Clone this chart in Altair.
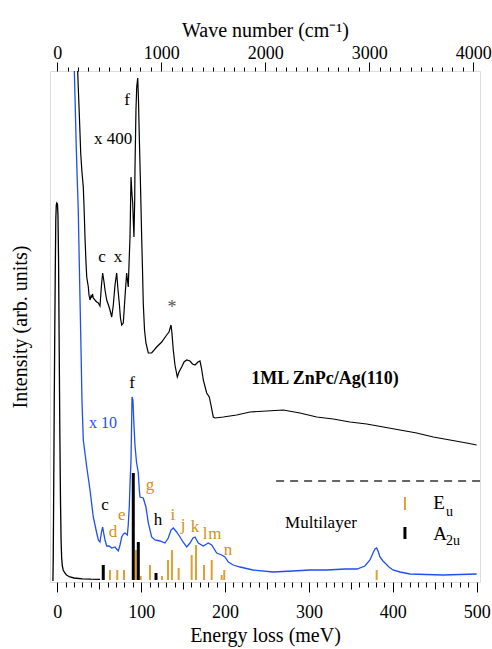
import altair as alt
import pandas as pd

# ---------------- data (energy loss in meV, intensity in arb. units) ----------------
elastic_e = [-5.2, -4.8, -4.2, -3.6, -3.0, -2.4, -1.8, -1.2, -0.6, 0.2, 0.8, 1.5, 2.2, 3.0,
             3.8, 4.5, 5.2, 6.0, 7, 9, 11, 15, 20, 30, 40, 51]
elastic_i = [1, 27, 102, 182, 252, 312, 362, 377, 379, 378, 367, 322, 242, 152,
             82, 42, 24, 16, 12, 9, 7, 5, 4, 3.2, 2.8, 2.6]

multi_e = [20.3, 21.5, 22.7, 23.8, 25.0, 25.9, 27.1, 28.3, 29.4, 31.0, 35.1, 39.0, 42.9, 47.0,
           48.9, 50.9, 52.7, 54.1, 55.7, 56.9, 58.9, 61.6, 64.9, 68.8, 72.7, 74.8, 76.8, 78.9,
           80.7, 83.5, 84.6, 85.8, 86.9, 87.9, 88.5, 89.1, 90.2, 91.4, 92.6, 94.4, 96.6, 97.8,
           98.6, 102.5, 105.7, 108.5, 112.5, 116.5, 122.4, 128.4, 132.3, 135.6, 138.3, 142.3,
           146.3, 149.9, 154.3, 158.2, 161.8, 164.2, 168.1, 174.1, 180.0, 184.1, 190.0, 196.0,
           199.9, 203.9, 209.8, 217.8, 233.3, 257.2, 281.0, 301.3, 321.5, 343.0, 357.3, 366.8,
           372.8, 376.4, 378.8, 380.8, 382.9, 384.7, 388.3, 390.7, 395.5, 400.2, 408.6, 420.5,
           459.8, 480.1, 500.0]
multi_i = [511, 472, 432, 402, 372, 332, 282, 232, 182, 142, 115, 92, 65, 49,
           42, 40, 50, 55, 47, 42, 36, 36, 34, 35, 31, 37, 45, 48,
           49, 47, 57, 75, 102, 122, 152, 185, 182, 157, 137, 120, 109, 92,
           85, 84, 75, 59, 45, 42, 41, 39, 44, 52, 54, 50,
           45, 40, 35, 39, 44, 45, 39, 36, 39, 37, 29, 27,
           25, 20, 17, 15, 12, 10, 11, 12, 12, 13, 13, 16,
           22, 29, 33, 34, 30, 25, 21, 19, 15, 12, 10, 8,
           7, 7.5, 8]

mono_e = [24.3, 25.0, 26.5, 27.9, 29.4, 31.0, 32.1, 33.0, 34.2, 35.1, 37.0, 37.8, 39.0, 40.2,
          41.0, 42.0, 42.9, 44.9, 47.0, 48.9, 50.9, 52.7, 54.1, 55.7, 56.9, 58.9, 61.0, 62.8,
          64.9, 66.8, 68.8, 70.8, 72.4, 73.9, 75.3, 76.8, 78.7, 80.7, 82.7, 84.6, 85.7, 86.7,
          87.9, 89.1, 89.9, 90.8, 91.4, 92.3, 92.6, 93.8, 94.7, 95.9, 96.8, 97.8, 99.2, 100.6,
          101.6, 102.5, 104.0, 105.7, 108.5, 112.5, 118.5, 124.5, 130.4, 133.2, 135.6, 136.7,
          138.3, 140.3, 143.1, 145.1, 148.3, 151.1, 154.3, 158.2, 161.2, 164.2, 167.7, 170.1,
          171.9, 174.1, 178.1, 181.2, 183.2, 186.0, 188.0, 197.9, 213.9, 229.7, 249.6, 269.4,
          289.3, 309.3, 329.0, 349.0, 368.9, 388.7, 408.6, 428.5, 448.3, 468.2, 488.1, 500.0]
mono_i = [511, 495, 462, 429, 410, 395, 370, 345, 320, 305, 295, 287, 282, 286,
          285, 288, 284, 282, 280, 279, 276, 297, 309, 300, 292, 282, 277, 272,
          265, 277, 297, 309, 292, 279, 264, 257, 259, 285, 309, 295, 322, 345,
          405, 387, 379, 357, 345, 382, 412, 472, 495, 504, 482, 445, 397, 345,
          312, 279, 252, 239, 229, 229, 235, 240, 247, 250, 257, 249,
          232, 217, 205, 210, 215, 220, 222, 221, 218, 217, 220, 221,
          214, 202, 189, 185, 177, 165, 164, 165, 167, 170, 171, 172,
          169, 165, 163, 160, 158, 155, 152, 149, 145, 142, 139, 137]

eu_e = [62.8, 71.5, 79.5, 93.8, 99.4, 110.5, 124.8, 132.0, 136.7, 144.7, 160.2, 165.4,
        174.9, 184.1, 196.0, 199.1, 380.8]
eu_i = [12, 12, 12, 32, 6, 17, 6, 22, 32, 14, 27, 37, 17, 22, 7, 12, 12]
a2u_e = [54.8, 90.6, 96.6, 117.7]
a2u_i = [17, 109, 40, 9]
stick_base = 2

# annotations: text, energy, intensity
ann_text = ["x 400", "f", "c", "x", "f", "c", "h"]
ann_e = [66.5, 83.1, 53.3, 72.4, 89.1, 56.9, 120.1]
ann_i = [443, 482, 325, 325, 199, 77, 62]
eu_lab = ["g", "e", "d", "i", "j", "k", "l", "m", "n"]
eu_lab_e = [110.5, 76.8, 66.4, 137.9, 149.9, 164.2, 176.1, 188.0, 203.5]
eu_lab_i = [97, 67, 50, 67, 57, 55, 48, 48, 32]

BLUE = "#1f4ff0"
ORANGE = "#d98e14"
ORANGE_STICK = "#dea035"
FONT = "Liberation Serif"
MEV_TO_CM = 8.06554
XDOM = [-8.7, 504]

xs = alt.Scale(domain=XDOM, nice=False, zero=False)
ys = alt.Scale(domain=[0, 511], nice=False, zero=False)

x_axis = alt.Axis(
    title="Energy loss (meV)", values=list(range(0, 501, 10)),
    labelExpr="datum.value % 100 === 0 ? datum.label : ''", format="d",
    labelOverlap=False, domain=False, grid=False,
    tickSize={"condition": [{"test": "datum.value % 100 === 0", "value": 10},
                            {"test": "datum.value % 50 === 0", "value": 7}], "value": 5},
    tickColor="black", tickWidth=1, labelFont=FONT, labelFontSize=18, labelColor="black",
    labelPadding=11, titleFont=FONT, titleFontSize=20, titleFontWeight="normal",
    titleColor="black", titlePadding=4)
y_axis = alt.Axis(title="Intensity (arb. units)", labels=False, ticks=False, domain=False,
                  grid=False, titleFont=FONT, titleFontSize=20, titleFontWeight="normal",
                  titleColor="black", titlePadding=20)


def X(field):
    return alt.X(field, type="quantitative", scale=xs, axis=x_axis)


def Y(field):
    return alt.Y(field, type="quantitative", scale=ys, axis=y_axis)


elastic = pd.DataFrame({"e": elastic_e, "i": elastic_i})
multi = pd.DataFrame({"e": multi_e, "i": multi_i})
mono = pd.DataFrame({"e": mono_e, "i": mono_i})
eu = pd.DataFrame({"e": eu_e, "i": eu_i, "b": stick_base})
a2u = pd.DataFrame({"e": a2u_e, "i": a2u_i, "b": stick_base})
ann = pd.DataFrame({"t": ann_text, "e": ann_e, "i": ann_i})
annl = pd.DataFrame({"t": eu_lab, "e": eu_lab_e, "i": eu_lab_i})

l_elastic = alt.Chart(elastic).mark_line(color="black", strokeWidth=1.3, clip=True).encode(
    x=X("e"), y=Y("i"), order="e:Q")
l_multi = alt.Chart(multi).mark_line(color=BLUE, strokeWidth=1.3, clip=True).encode(
    x=X("e"), y=Y("i"), order="e:Q")
l_mono = alt.Chart(mono).mark_line(color="black", strokeWidth=1.2, clip=True).encode(
    x=X("e"), y=Y("i"), order="e:Q")

s_eu = alt.Chart(eu).mark_rule(color=ORANGE_STICK, strokeWidth=2).encode(
    x=X("e"), y=Y("b"), y2="i")
s_a2u = alt.Chart(a2u).mark_rule(color="black", strokeWidth=3).encode(
    x=X("e"), y=Y("b"), y2="i")

t_ann = alt.Chart(ann).mark_text(font=FONT, fontSize=17, color="black").encode(
    x=X("e"), y=Y("i"), text="t")
t_lab = alt.Chart(annl).mark_text(font=FONT, fontSize=17, color=ORANGE).encode(
    x=X("e"), y=Y("i"), text="t")

x10 = pd.DataFrame({"t": ["x 10"], "e": [54.5], "i": [159]})
t_x10 = alt.Chart(x10).mark_text(font=FONT, fontSize=16, color=BLUE).encode(
    x=X("e"), y=Y("i"), text="t")
star = pd.DataFrame({"t": ["*"], "e": [136.7], "i": [274]})
t_star = alt.Chart(star).mark_text(font=FONT, fontSize=18, color="#555555").encode(
    x=X("e"), y=Y("i"), text="t")

title1 = pd.DataFrame({"t": ["1ML ZnPc/Ag(110)"], "e": [319.2], "i": [203]})
t_title1 = alt.Chart(title1).mark_text(font=FONT, fontSize=18, fontWeight="bold",
                                       color="black").encode(x=X("e"), y=Y("i"), text="t")
title2 = pd.DataFrame({"t": ["Multilayer"], "e": [314.4], "i": [59]})
t_title2 = alt.Chart(title2).mark_text(font=FONT, fontSize=17, color="black").encode(
    x=X("e"), y=Y("i"), text="t")

dash = pd.DataFrame({"e": [260.9], "e2": [504], "i": [101]})
r_dash = alt.Chart(dash).mark_rule(color="#333333", strokeWidth=1.4,
                                   strokeDash=[8, 6]).encode(x=X("e"), x2="e2", y=Y("i"))

# legend
leg_sticks = pd.DataFrame({"e": [414.5, 414.5], "b": [72, 43], "i": [85, 55],
                           "k": ["Eu", "A2u"]})
r_leg = alt.Chart(leg_sticks).mark_rule().encode(
    x=X("e"), y=Y("b"), y2="i",
    color=alt.Color("k:N", scale=alt.Scale(domain=["Eu", "A2u"],
                                           range=[ORANGE_STICK, "black"]), legend=None),
    strokeWidth=alt.StrokeWidth("k:N", scale=alt.Scale(domain=["Eu", "A2u"], range=[2, 3]),
                                legend=None))
leg_main = pd.DataFrame({"t": ["E", "A"], "e": [455.1, 456.3], "i": [79, 48]})
t_leg_main = alt.Chart(leg_main).mark_text(font=FONT, fontSize=19, color="black").encode(
    x=X("e"), y=Y("i"), text="t")
leg_sub = pd.DataFrame({"t": ["u", "2u"], "e": [463.5, 463.5], "i": [70, 41]})
t_leg_sub = alt.Chart(leg_sub).mark_text(font=FONT, fontSize=14, color="black",
                                         align="left").encode(x=X("e"), y=Y("i"), text="t")

main = alt.layer(s_eu, s_a2u, l_elastic, l_multi, l_mono, t_ann, t_lab, t_x10, t_star,
                 t_title1, t_title2, r_dash, r_leg, t_leg_main, t_leg_sub)

# top axis: wave number
top_ticks = pd.DataFrame({"w": list(range(0, 4001, 100))})
top = alt.Chart(top_ticks).mark_point(opacity=0).encode(
    x=alt.X("w:Q", scale=alt.Scale(domain=[XDOM[0] * MEV_TO_CM, XDOM[1] * MEV_TO_CM],
                                   nice=False, zero=False),
            axis=alt.Axis(orient="top", title="Wave number (cm\u207b\u00b9)",
                          values=list(range(0, 4001, 100)),
                          labelExpr="datum.value % 1000 === 0 ? datum.label : ''",
                          format="d", labelOverlap=False, domain=False, grid=False,
                          tickSize={"condition": {"test": "datum.value % 1000 === 0",
                                                  "value": 9}, "value": 4},
                          tickColor="black", tickWidth=1, labelFont=FONT, labelFontSize=18,
                          labelColor="black", labelPadding=0, titleFont=FONT,
                          titleFontSize=20, titleFontWeight="normal", titleColor="black",
                          titlePadding=4)),
    y=alt.Y("w:Q", scale=alt.Scale(domain=[0, 1e9]), axis=None))

chart = alt.layer(main, top).resolve_scale(x="independent", y="independent").properties(
    width=430, height=511,
    autosize=alt.AutoSizeParams(type="none"),
    padding={"left": 50, "top": 71, "right": 12, "bottom": 67},
    background="white",
).configure_view(stroke="black", strokeWidth=1.2).configure_axis(
    labelFont=FONT, titleFont=FONT
).configure(font=FONT)

chart.save("out.html", embed_options={"renderer": "svg", "actions": False})
